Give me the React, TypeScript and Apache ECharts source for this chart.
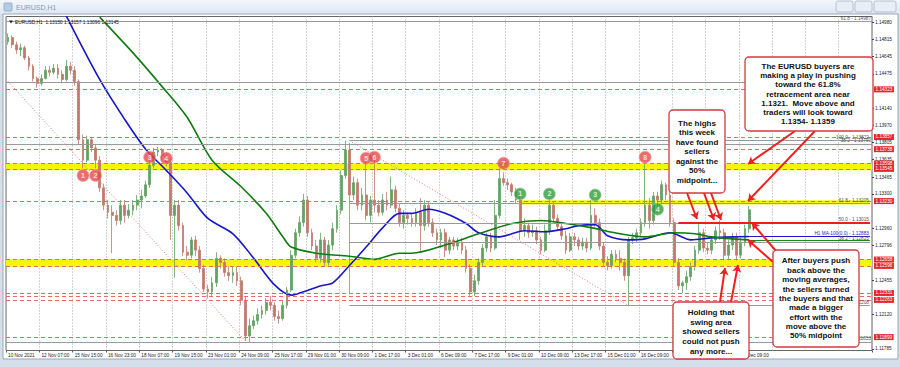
import React, { useEffect, useRef } from "react";
import * as echarts from "echarts";

// ---------- DATA ----------
const tickLabels = [
  "10 Nov 2021", "12 Nov 07:00", "15 Nov 15:00", "16 Nov 23:00", "18 Nov 07:00", "19 Nov 15:00",
  "23 Nov 01:00", "24 Nov 09:00", "25 Nov 17:00", "29 Nov 01:00", "30 Nov 09:00", "1 Dec 17:00",
  "3 Dec 01:00", "6 Dec 09:00", "7 Dec 17:00", "9 Dec 01:00", "10 Dec 09:00", "13 Dec 17:00",
  "15 Dec 01:00", "16 Dec 09:00", "17 Dec 17:00", "20 Dec 01:00", "21 Dec 09:00",
];
const priceTicks = [
  1.1498, 1.14815, 1.14645, 1.14475, 1.1414, 1.1397, 1.13805, 1.13635, 1.13465, 1.133,
  1.1296, 1.12796, 1.12455, 1.1212, 1.11785,
];
// [open, close, low, high], each candle = 4 H1 bars
const candles = [
  [1.1479, 1.1483, 1.1476, 1.1487], [1.1483, 1.1476, 1.1473, 1.1485], [1.1476, 1.1471, 1.1467, 1.1479],
  [1.1471, 1.1473, 1.1465, 1.1477], [1.1473, 1.1463, 1.1461, 1.1475], [1.1463, 1.1455, 1.1451, 1.1465],
  [1.1455, 1.1443, 1.144, 1.1457], [1.1443, 1.1438, 1.1434, 1.1445], [1.1438, 1.1443, 1.1436, 1.1447],
  [1.1443, 1.1451, 1.1442, 1.1455], [1.1451, 1.1449, 1.1445, 1.1455], [1.1449, 1.1453, 1.1447, 1.1457],
  [1.1453, 1.1447, 1.1443, 1.1457], [1.1447, 1.1442, 1.1438, 1.1451], [1.1442, 1.1455, 1.144, 1.1461],
  [1.1455, 1.1451, 1.1447, 1.1459], [1.1451, 1.144, 1.1436, 1.1455], [1.144, 1.1383, 1.1378, 1.1442],
  [1.1383, 1.1363, 1.1355, 1.1388], [1.1363, 1.1383, 1.1361, 1.1387], [1.1383, 1.1375, 1.1371, 1.1386],
  [1.1375, 1.1363, 1.1355, 1.1379], [1.1363, 1.1336, 1.1332, 1.1367], [1.1336, 1.1319, 1.1314, 1.134],
  [1.1319, 1.1312, 1.1306, 1.1324], [1.1312, 1.1309, 1.1272, 1.1319], [1.1309, 1.1304, 1.1299, 1.1314],
  [1.1304, 1.1319, 1.13, 1.1324], [1.1319, 1.1309, 1.1302, 1.1324], [1.1309, 1.1314, 1.1306, 1.132],
  [1.1314, 1.1319, 1.1309, 1.1324], [1.1319, 1.1324, 1.1314, 1.1329], [1.1324, 1.1328, 1.1316, 1.1334],
  [1.1328, 1.1339, 1.1326, 1.1343], [1.1339, 1.1358, 1.1336, 1.1363], [1.1358, 1.1371, 1.1355, 1.1375],
  [1.1371, 1.1373, 1.1367, 1.1376], [1.1373, 1.1367, 1.1363, 1.1375], [1.1367, 1.1361, 1.1357, 1.1371],
  [1.1361, 1.1309, 1.1285, 1.1365], [1.1309, 1.1319, 1.1248, 1.1324], [1.1319, 1.1299, 1.1294, 1.1324],
  [1.1299, 1.1273, 1.1269, 1.1302], [1.1273, 1.127, 1.1265, 1.1279], [1.127, 1.1285, 1.1267, 1.1288],
  [1.1285, 1.1275, 1.1269, 1.1289], [1.1275, 1.1257, 1.1253, 1.1279], [1.1257, 1.1237, 1.1234, 1.1261],
  [1.1237, 1.1234, 1.1228, 1.1241], [1.1234, 1.1243, 1.123, 1.1249], [1.1243, 1.1267, 1.1239, 1.1273],
  [1.1267, 1.1263, 1.1257, 1.127], [1.1263, 1.1253, 1.1249, 1.1267], [1.1253, 1.125, 1.1245, 1.1259],
  [1.125, 1.1253, 1.1243, 1.1259], [1.1253, 1.1245, 1.124, 1.1259], [1.1245, 1.1226, 1.1221, 1.1249],
  [1.1226, 1.1191, 1.1186, 1.123], [1.1191, 1.1201, 1.1185, 1.1208], [1.1201, 1.1206, 1.1198, 1.1211],
  [1.1206, 1.1212, 1.1202, 1.1218], [1.1212, 1.1216, 1.1208, 1.1221], [1.1216, 1.1224, 1.1212, 1.1228],
  [1.1224, 1.1221, 1.1216, 1.123], [1.1221, 1.121, 1.1206, 1.1224], [1.121, 1.1208, 1.1203, 1.1216],
  [1.1208, 1.1221, 1.1206, 1.1226], [1.1221, 1.1236, 1.1218, 1.1239], [1.1236, 1.127, 1.1234, 1.1275],
  [1.127, 1.1292, 1.1267, 1.1296], [1.1292, 1.1302, 1.1288, 1.1308], [1.1302, 1.1324, 1.1298, 1.133],
  [1.1324, 1.1292, 1.1288, 1.1328], [1.1292, 1.1279, 1.1275, 1.1296], [1.1279, 1.1267, 1.1263, 1.1285],
  [1.1267, 1.1285, 1.1263, 1.1292], [1.1285, 1.1263, 1.1259, 1.1288], [1.1263, 1.128, 1.126, 1.1285],
  [1.128, 1.1296, 1.1275, 1.1302], [1.1296, 1.1314, 1.1292, 1.1319], [1.1314, 1.1348, 1.131, 1.1353],
  [1.1348, 1.1373, 1.1345, 1.1382], [1.1373, 1.1329, 1.1233, 1.138], [1.1329, 1.1341, 1.1324, 1.1347],
  [1.1341, 1.1319, 1.1314, 1.1345], [1.1319, 1.1329, 1.1314, 1.1336], [1.1329, 1.1309, 1.1304, 1.1363],
  [1.1309, 1.1324, 1.1302, 1.1328], [1.1324, 1.1319, 1.1312, 1.1363], [1.1319, 1.1312, 1.1308, 1.1324],
  [1.1312, 1.1324, 1.1309, 1.133], [1.1324, 1.1319, 1.1314, 1.1332], [1.1319, 1.1334, 1.1316, 1.1347],
  [1.1334, 1.1316, 1.1312, 1.1338], [1.1316, 1.1302, 1.1298, 1.132], [1.1302, 1.1309, 1.1296, 1.1314],
  [1.1309, 1.1306, 1.13, 1.1312], [1.1306, 1.1302, 1.1298, 1.131], [1.1302, 1.1312, 1.1298, 1.1316],
  [1.1312, 1.1299, 1.1272, 1.1326], [1.1299, 1.1319, 1.1294, 1.1324], [1.1319, 1.1302, 1.1298, 1.1322],
  [1.1302, 1.1292, 1.1288, 1.1306], [1.1292, 1.1285, 1.128, 1.1296], [1.1285, 1.1292, 1.1277, 1.1296],
  [1.1292, 1.1275, 1.1268, 1.1296], [1.1275, 1.1285, 1.1271, 1.1288], [1.1285, 1.1279, 1.1275, 1.1288],
  [1.1279, 1.1283, 1.1275, 1.1287], [1.1283, 1.1275, 1.1271, 1.1287], [1.1275, 1.1257, 1.1253, 1.1279],
  [1.1257, 1.1234, 1.1229, 1.1261], [1.1234, 1.1245, 1.123, 1.1251], [1.1245, 1.1263, 1.1241, 1.1267],
  [1.1263, 1.1277, 1.1259, 1.1281], [1.1277, 1.1288, 1.1273, 1.1292], [1.1288, 1.1277, 1.1273, 1.1292],
  [1.1277, 1.1309, 1.1275, 1.1324], [1.1309, 1.1345, 1.1306, 1.1355], [1.1345, 1.1341, 1.1338, 1.1351],
  [1.1341, 1.1339, 1.1334, 1.1345], [1.1339, 1.1332, 1.1328, 1.1341], [1.1332, 1.1324, 1.132, 1.1336],
  [1.1324, 1.1294, 1.1285, 1.133], [1.1294, 1.1299, 1.1288, 1.1306], [1.1299, 1.1292, 1.1287, 1.1302],
  [1.1292, 1.1294, 1.1288, 1.13], [1.1294, 1.1285, 1.1281, 1.1298], [1.1285, 1.1275, 1.1271, 1.1288],
  [1.1275, 1.1294, 1.1273, 1.13], [1.1294, 1.1319, 1.129, 1.1324], [1.1319, 1.1306, 1.1302, 1.1322],
  [1.1306, 1.1298, 1.1294, 1.131], [1.1298, 1.1289, 1.1285, 1.1302], [1.1289, 1.1275, 1.1271, 1.1294],
  [1.1275, 1.1288, 1.1273, 1.1292], [1.1288, 1.1285, 1.1279, 1.1292], [1.1285, 1.1279, 1.1275, 1.1288],
  [1.1279, 1.1283, 1.1275, 1.1287], [1.1283, 1.1277, 1.1273, 1.1287], [1.1277, 1.1309, 1.1275, 1.1324],
  [1.1309, 1.1302, 1.1298, 1.1316], [1.1302, 1.1279, 1.1275, 1.1306], [1.1279, 1.1263, 1.1259, 1.1283],
  [1.1263, 1.126, 1.1255, 1.1269], [1.126, 1.1271, 1.1257, 1.1275], [1.1271, 1.1267, 1.1263, 1.1275],
  [1.1267, 1.1263, 1.1255, 1.1275], [1.1263, 1.125, 1.1245, 1.1267], [1.125, 1.1285, 1.122, 1.1288],
  [1.1285, 1.1287, 1.1281, 1.1292], [1.1287, 1.1292, 1.1283, 1.1296], [1.1292, 1.1302, 1.1288, 1.1306],
  [1.1302, 1.1319, 1.1298, 1.1359], [1.1319, 1.1304, 1.1296, 1.1326], [1.1304, 1.1328, 1.13, 1.1332],
  [1.1328, 1.1324, 1.1312, 1.1332], [1.1324, 1.1339, 1.132, 1.1343], [1.1339, 1.1329, 1.1324, 1.1341],
  [1.1329, 1.1302, 1.1298, 1.1332], [1.1302, 1.1263, 1.1259, 1.1306], [1.1263, 1.124, 1.1236, 1.1267],
  [1.124, 1.1243, 1.1233, 1.1245], [1.1243, 1.1249, 1.1236, 1.1255], [1.1249, 1.1259, 1.1245, 1.1263],
  [1.1259, 1.1275, 1.1255, 1.1279], [1.1275, 1.1292, 1.1271, 1.1302], [1.1292, 1.1277, 1.1273, 1.1296],
  [1.1277, 1.1275, 1.1271, 1.1283], [1.1275, 1.1285, 1.1271, 1.1288], [1.1285, 1.1294, 1.1281, 1.1298],
  [1.1294, 1.1292, 1.1285, 1.1304], [1.1292, 1.127, 1.1265, 1.1296], [1.127, 1.128, 1.1265, 1.1285],
  [1.128, 1.1288, 1.1275, 1.1292], [1.1288, 1.127, 1.1265, 1.1292], [1.127, 1.1283, 1.1267, 1.1287],
  [1.1283, 1.1296, 1.1279, 1.13], [1.1296, 1.13145, 1.1292, 1.1318],
];
const totalSlots = 208;

const ma100Slots = [14, 22, 28, 33, 38, 43, 48, 54, 59, 64, 68, 70, 75, 78, 82, 86, 90, 94, 97, 101, 105, 110, 113, 118, 124, 129, 134, 137, 141, 144, 149, 153, 159, 164, 169, 174, 178];
const ma100Values = [1.1504, 1.1442, 1.1403, 1.1374, 1.1353, 1.1331, 1.1306, 1.1291, 1.1267, 1.1241, 1.1231, 1.1233, 1.124, 1.1243, 1.126, 1.1278, 1.1297, 1.1311, 1.1311, 1.1315, 1.1311, 1.1301, 1.1292, 1.1288, 1.1294, 1.1293, 1.1296, 1.1299, 1.13, 1.1289, 1.1285, 1.1286, 1.1292, 1.1285, 1.1287, 1.1288, 1.12883];
const ma200Slots = [22, 30, 37, 43, 49, 56, 62, 66, 68, 74, 82, 88, 94, 97, 105, 113, 121, 128, 134, 140, 147, 153, 160, 165, 169, 174, 178];
const ma200Values = [1.1503, 1.1468, 1.1435, 1.1405, 1.1363, 1.1337, 1.1311, 1.1288, 1.1278, 1.1272, 1.1269, 1.1266, 1.1272, 1.1272, 1.128, 1.1291, 1.1301, 1.1304, 1.1301, 1.1297, 1.1291, 1.1288, 1.1292, 1.1291, 1.1288, 1.1286, 1.1285];
const ma100Now = 1.12883;
const ma200Now = 1.1285;

const redLevels = [1.14323, 1.13857, 1.13738, 1.13598, 1.13545, 1.1323, 1.12658, 1.12596, 1.12331, 1.123, 1.12263, 1.11899];
const redLevelTagged = [true, true, true, true, true, true, true, true, true, false, true, true];
const fibWideLevels = [1.14987, 1.14389, 1.1379, 1.11853];
const fibWideNames = ["61.8", "50.0", "38.2", "0.0"];
const fibStartSlot = 82;
const fibLevels = [1.13822, 1.13205, 1.13015, 1.12825, 1.12208];
const fibNames = ["100.0", "61.8", "50.0", "38.2", "0.0"];
const yellowBands = [[1.13532, 1.136], [1.12588, 1.1266]];
const fibZoneStartSlot = 123;
const fibZone = [1.13196, 1.13238];
const midpointLevel = 1.13015;
const midpointStartSlot = 161;
const currentPrice = 1.13145;
const trendA = { slots: [0, 57], prices: [1.144, 1.1186] };
const trendB = { slots: [82, 149], prices: [1.13822, 1.12208] };

const redMarkSlots = [18, 21, 34, 38, 86, 88, 119, 153];
const redMarkPrices = [1.1348, 1.1348, 1.1366, 1.1365, 1.1365, 1.1366, 1.136, 1.1366];
const greenMarkSlots = [123, 130, 141, 156];
const greenMarkPrices = [1.133, 1.133, 1.1329, 1.1315];

// ---------- LAYOUT / STYLE ----------
const FONT = "Arial, 'Liberation Sans', sans-serif";
const UP = "#63a263";
const DOWN = "#c07a6b";
const RED_DASH = "#e36b6b";
const FIB_GRAY = "#9a9a9a";
// labels that sit fully under an annotation box in the original screenshot
const coveredTimeLabelSlots = [160, 168];
const coveredFibWideLabels = [1.14389];

const boxes = [
  { x: 745, y: 57, w: 128, h: 74, cx: 808, cy: 94, lh: 9.2,
    text: "The EURUSD buyers are\nmaking a play in pushing\ntoward the 61.8%\nretracement area near\n1.1321.  Move above and\ntraders will look toward\n1.1354- 1.1359" },
  { x: 669, y: 110, w: 56, h: 83, cx: 697, cy: 151.7, lh: 9.45,
    text: "The highs\nthis week\nhave found\nsellers\nagainst the\n50%\nmidpoint..." },
  { x: 773, y: 250, w: 86, h: 97, cx: 816, cy: 298.4, lh: 9.4,
    text: "After buyers push\nback above the\nmoving averages,\nthe sellers turned\nthe buyers and that\nmade a bigger\neffort with the\nmove above the\n50% midpoint" },
  { x: 673, y: 302, w: 76, h: 57, cx: 711, cy: 331.7, lh: 9.7,
    text: "Holding that\nswing area\nshowed sellers\ncould not push\nany more..." },
];
const arrows = [
  [[795, 131], [748, 164]], [[815, 131], [748, 201]],
  [[687, 193], [697, 219]], [[704, 193], [714, 220]], [[711, 193], [721, 220]],
  [[720, 302], [725, 268]], [[731, 302], [738, 265]],
  [[776, 251], [752, 223]], [[773, 262], [748, 240]],
];

export default function App() {
  const ref = useRef<HTMLDivElement>(null);
  useEffect(() => {
    if (!ref.current) return;
    const chart = echarts.init(ref.current, undefined, { renderer: "svg" });
    const lastSlot = candles.length - 1;
    const categories = Array.from({ length: totalSlots }, (_, i) => String(i));
    const labelEvery = 8;
    const lastEnd = totalSlots - 1;

    const lines: any[] = [];
    redLevels.forEach((p, i) => {
      lines.push({
        yAxis: p,
        lineStyle: { color: RED_DASH, type: [4, 3], width: 1 },
        label: redLevelTagged[i]
          ? { show: true, position: "end", distance: 2, formatter: p.toFixed(5), color: "#fff",
              backgroundColor: "#e8262a", fontSize: 4.7, fontFamily: FONT, padding: [0.5, 1.5] }
          : { show: false },
      });
    });
    fibWideLevels.forEach((p, i) => {
      lines.push({
        yAxis: p,
        lineStyle: { color: FIB_GRAY, type: "solid", width: 1 },
        label: { show: !coveredFibWideLabels.includes(p), position: "insideEndTop", distance: 1, formatter: `${fibWideNames[i]} - ${p.toFixed(5)}`,
          color: "#555", fontSize: 4.7, fontFamily: FONT },
      });
    });
    fibLevels.forEach((p, i) => {
      lines.push([
        { coord: [fibStartSlot, p], lineStyle: { color: FIB_GRAY, type: "solid", width: 1 },
          label: { show: true, position: "insideEndTop", distance: 1, formatter: `${fibNames[i]} - ${p.toFixed(5)}`,
            color: "#555", fontSize: 4.7, fontFamily: FONT } },
        { coord: [lastEnd, p] },
      ]);
    });
    lines.push([
      { coord: [midpointStartSlot, midpointLevel], lineStyle: { color: "#f01c1c", type: "solid", width: 2 }, label: { show: false } },
      { coord: [lastEnd, midpointLevel] },
    ]);
    lines.push([
      { coord: [lastSlot, ma100Now], lineStyle: { color: "#1a1acc", type: "solid", width: 1 },
        label: { show: true, position: "insideEndTop", distance: 1, formatter: `H1 MA-100(0,0) - ${ma100Now.toFixed(5)}`,
          color: "#1a1acc", fontSize: 4.7, fontFamily: FONT } },
      { coord: [lastEnd, ma100Now] },
    ]);
    lines.push([
      { coord: [lastSlot, ma200Now], lineStyle: { color: "#1a8a1a", type: "solid", width: 1 }, label: { show: false } },
      { coord: [lastEnd, ma200Now] },
    ]);
    [trendA, trendB].forEach((t) => {
      lines.push([
        { coord: [t.slots[0], t.prices[0]], lineStyle: { color: "#e07a7a", type: [1, 2], width: 1 }, label: { show: false } },
        { coord: [t.slots[1], t.prices[1]] },
      ]);
    });
    lines.push({
      yAxis: currentPrice,
      lineStyle: { opacity: 0 },
      label: { show: true, position: "end", distance: 2, formatter: currentPrice.toFixed(5), color: "#fff",
        backgroundColor: "#000", fontSize: 4.7, fontFamily: FONT, padding: [0.5, 1.5] },
    });

    const areas: any[] = yellowBands.map((b) => [
      { yAxis: b[1], itemStyle: { color: "#f4f400", opacity: 0.95 } },
      { yAxis: b[0] },
    ]);
    areas.push([
      { coord: [fibZoneStartSlot, fibZone[1]], itemStyle: { color: "#f0f000", opacity: 0.9 } },
      { coord: [lastEnd, fibZone[0]] },
    ]);

    const isLabelSlot = (i: number) => i % labelEvery === 0 && i <= lastSlot;
    const isVisibleLabelSlot = (i: number) => isLabelSlot(i) && !coveredTimeLabelSlots.includes(i);

    const graphic: any[] = [
      { type: "rect", z: -20, shape: { x: 0, y: 0, width: 900, height: 367 }, style: { fill: "#d5dfec" } },
      { type: "rect", z: -19, shape: { x: 0, y: 0, width: 900, height: 14 },
        style: { fill: new echarts.graphic.LinearGradient(0, 0, 0, 1, [{ offset: 0, color: "#f3f7fc" }, { offset: 1, color: "#dce6f2" }]) } },
      { type: "rect", z: -18, shape: { x: 3, y: 14, width: 895, height: 345 }, style: { fill: "#ffffff", stroke: "#9aa7b8", lineWidth: 1 } },
      { type: "rect", z: 1, shape: { x: 4, y: 3, width: 8, height: 8, r: 1 }, style: { fill: "#b7cbe3", stroke: "#8aa4c4", lineWidth: 0.8 } },
      { type: "text", z: 1, x: 16, y: 7.5, style: { text: "EURUSD,H1", font: `7px ${FONT}`, fill: "#8a9ab0", textVerticalAlign: "middle" } },
      { type: "rect", z: 1, shape: { x: 836, y: 1, width: 17, height: 11, r: 2 }, style: { fill: "#e8eef6", stroke: "#a9b7c9", lineWidth: 0.8 } },
      { type: "rect", z: 1, shape: { x: 855, y: 1, width: 17, height: 11, r: 2 }, style: { fill: "#e8eef6", stroke: "#a9b7c9", lineWidth: 0.8 } },
      { type: "rect", z: 1, shape: { x: 874, y: 1, width: 22, height: 11, r: 2 }, style: { fill: "#e8eef6", stroke: "#a9b7c9", lineWidth: 0.8 } },
      { type: "polygon", z: 10, shape: { points: [[9, 20.5], [13, 20.5], [11, 23.5]] }, style: { fill: "#222" } },
      { type: "text", z: 10, x: 15, y: 22, style: { text: "EURUSD,H1  1.13150 1.13157 1.13096 1.13145", font: `4.8px ${FONT}`, fill: "#111", textVerticalAlign: "middle" } },
    ];
    boxes.forEach((b) => {
      graphic.push({ type: "rect", z: 50, shape: { x: b.x, y: b.y, width: b.w, height: b.h, r: 4 },
        style: { fill: "#fff", stroke: "#d23a3f", lineWidth: 1.3 } });
      graphic.push({ type: "text", z: 51, x: b.cx, y: b.cy,
        style: { text: b.text, font: `bold 8px ${FONT}`, fill: "#111", textAlign: "center", textVerticalAlign: "middle", lineHeight: b.lh } });
    });

    const option: any = {
      animation: false,
      backgroundColor: "#d5dfec",
      graphic,
      grid: { left: 6, right: 28, top: 16.5, bottom: 16.5, show: true, backgroundColor: "#fff", borderColor: "#666", borderWidth: 1 },
      xAxis: {
        type: "category",
        data: categories,
        boundaryGap: true,
        axisLine: { show: false },
        axisTick: { show: true, interval: (i: number) => isLabelSlot(i), length: 2, lineStyle: { color: "#555" } },
        axisLabel: {
          interval: (i: number) => isVisibleLabelSlot(i),
          formatter: (_v: string, i: number) => tickLabels[i / labelEvery] ?? "",
          fontSize: 4.7, fontFamily: FONT, color: "#222", align: "left", margin: 2.5,
        },
        splitLine: { show: true, interval: (i: number) => i % labelEvery === 0, lineStyle: { color: "#a8a8a8", type: [1, 2], width: 1 } },
      },
      yAxis: {
        type: "value",
        position: "right",
        min: 1.11768,
        max: 1.15036,
        splitLine: { show: false },
        axisLine: { show: false },
        axisTick: { show: true, customValues: priceTicks, length: 2, lineStyle: { color: "#444" } },
        axisLabel: { customValues: priceTicks, formatter: (v: number) => v.toFixed(5), fontSize: 4.7, fontFamily: FONT, color: "#222", margin: 3 },
      },
      series: [
        {
          type: "candlestick",
          data: candles,
          barWidth: "55%",
          z: 3,
          itemStyle: { color: UP, color0: DOWN, borderColor: UP, borderColor0: DOWN, borderWidth: 0.8 },
          markArea: { silent: true, data: areas },
          markLine: { silent: true, symbol: "none", precision: 5, data: lines, animation: false },
        },
        {
          type: "line",
          data: ma100Slots.map((s, i) => [s, ma100Values[i]]),
          smooth: 0.3,
          symbol: "none",
          z: 4,
          lineStyle: { color: "#1616c8", width: 1.6 },
          markLine: {
            silent: true, symbol: ["none", "arrow"], symbolSize: 7, animation: false,
            lineStyle: { color: "#f02020", width: 2, type: "solid" }, label: { show: false },
            data: arrows.map((a) => [{ x: a[0][0], y: a[0][1] }, { x: a[1][0], y: a[1][1] }]),
          },
        },
        {
          type: "line",
          data: ma200Slots.map((s, i) => [s, ma200Values[i]]),
          smooth: 0.3,
          symbol: "none",
          z: 4,
          lineStyle: { color: "#0e7a10", width: 1.6 },
        },
        {
          type: "scatter",
          z: 6,
          data: redMarkSlots.map((s, i) => ({ value: [s, redMarkPrices[i]], name: String(i + 1) })),
          symbolSize: 12,
          itemStyle: { color: "#e5484b", borderColor: "#f6a0a0", borderWidth: 0.8 },
          label: { show: true, position: "inside", formatter: (p: any) => p.name, color: "#fff", fontSize: 7, fontWeight: "bold", fontFamily: FONT },
        },
        {
          type: "scatter",
          z: 6,
          data: greenMarkSlots.map((s, i) => ({ value: [s, greenMarkPrices[i]], name: String(i + 1) })),
          symbolSize: 12,
          itemStyle: { color: "#2e9c3a", borderColor: "#9fd6a4", borderWidth: 0.8 },
          label: { show: true, position: "inside", formatter: (p: any) => p.name, color: "#fff", fontSize: 7, fontWeight: "bold", fontFamily: FONT },
        },
      ],
    };
    chart.setOption(option);
    return () => chart.dispose();
  }, []);
  return <div ref={ref} style={{ position: "absolute", left: 0, top: 0, width: 900, height: 367 }} />;
}
